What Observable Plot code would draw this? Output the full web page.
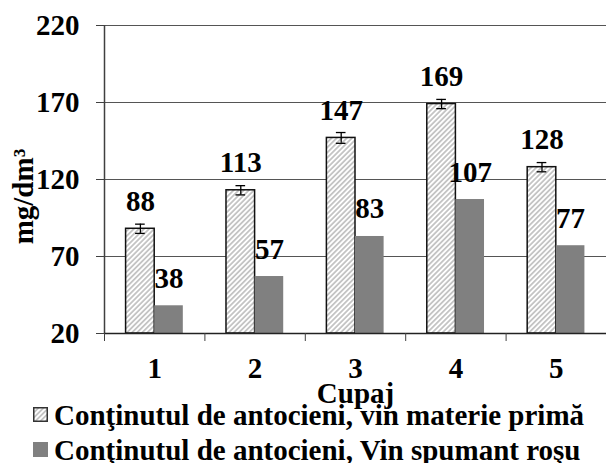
<!DOCTYPE html>
<html><head><meta charset="utf-8">
<script src="https://cdn.jsdelivr.net/npm/d3@7"></script>
<script src="https://cdn.jsdelivr.net/npm/@observablehq/plot@0.6"></script>
<style>
html,body{margin:0;padding:0;background:#fff}
body{width:606px;height:463px;overflow:hidden;font-family:'Liberation Serif','Times New Roman',Tinos,'DejaVu Serif',serif;font-weight:bold;color:#000}
.legend{padding-left:33px;font-size:29px;line-height:35px;white-space:nowrap}
.sw{display:inline-block;width:15px;height:15px;vertical-align:3px;margin-right:6px}
</style></head><body>
<svg width="0" height="0" style="position:absolute">
  <defs>
    <pattern id="hatch" patternUnits="userSpaceOnUse" width="3.6" height="3.6" patternTransform="rotate(45)">
      <rect width="3.6" height="3.6" fill="#ffffff"></rect>
      <rect width="1.8" height="3.6" fill="#c4c4c4"></rect>
    </pattern>
  </defs>
</svg>
<div id="chart"></div>
<div class="legend" id="legend"></div>
<script>
const cupaje = [1, 2, 3, 4, 5];
const materiePrima = [88, 113, 147, 169, 128];
const spumantRosu = [38, 57, 83, 107, 77];
const erori = [3, 3, 3.5, 3, 3];
const yTicks = [20, 70, 120, 170, 220];
const serii = ["Conţinutul de antocieni, vin materie primă", "Conţinutul de antocieni, Vin spumant roşu"];
const axaX = "Cupaj";
const axaY = "mg/dm³";

const culoareSpumant = "#808080";
const w = 0.285;     // bar width in category units
const cap = 0.048;   // error-bar cap half width
const font = "Liberation Serif, Times New Roman, Tinos, DejaVu Serif, serif";
const fs = 29;

const rows1 = cupaje.map((c, i) => ({c, v: materiePrima[i], e: erori[i]}));
const rows2 = cupaje.map((c, i) => ({c, v: spumantRosu[i]}));
const bounds = cupaje.map(c => c - 0.5).concat([cupaje[cupaje.length - 1] + 0.5]);

const chart = Plot.plot({
  width: 606,
  height: 398,
  marginLeft: 104,
  marginRight: 0,
  marginTop: 25,
  marginBottom: 65,
  x: {type: "linear", domain: [bounds[0], bounds[bounds.length - 1]]},
  y: {domain: [yTicks[0], yTicks[yTicks.length - 1]]},
  style: {fontWeight: "bold", fontSize: fs + "px", overflow: "visible", background: "white", color: "black"},
  marks: [
    Plot.ruleY(yTicks.slice(1), {stroke: "#555", strokeWidth: 1}),
    Plot.rectY(rows1, {x1: d => d.c - w, x2: d => d.c, y1: yTicks[0], y2: "v", fill: "url(#hatch)", stroke: "#111", strokeWidth: 1.5}),
    Plot.rectY(rows2, {x1: d => d.c, x2: d => d.c + w, y1: yTicks[0], y2: "v", fill: culoareSpumant}),
    Plot.ruleX(rows1, {x: d => d.c - w / 2, y1: d => d.v - d.e, y2: d => d.v + d.e, stroke: "#000", strokeWidth: 1.3}),
    Plot.ruleY(rows1, {y: d => d.v - d.e, x1: d => d.c - w / 2 - cap, x2: d => d.c - w / 2 + cap, stroke: "#000", strokeWidth: 1.3}),
    Plot.ruleY(rows1, {y: d => d.v + d.e, x1: d => d.c - w / 2 - cap, x2: d => d.c - w / 2 + cap, stroke: "#000", strokeWidth: 1.3}),
    Plot.ruleX([bounds[0]], {stroke: "#404040", strokeWidth: 1.5}),
    Plot.ruleY([yTicks[0]], {stroke: "#222", strokeWidth: 1.3}),
    Plot.axisY({ticks: yTicks, tickSize: 8, tickPadding: 17, label: null, stroke: "#404040", fill: "black", fontFamily: font}),
    Plot.axisX({ticks: bounds, tickSize: 8, tickFormat: () => "", label: null, stroke: "#404040"}),
    Plot.axisX({ticks: cupaje, tickSize: 0, tickPadding: 24, label: null, tickFormat: d => String(d), fill: "black", fontFamily: font}),
    Plot.text(rows1, {x: d => d.c - w / 2, y: "v", text: d => String(d.v), lineAnchor: "bottom", dy: -18, fontSize: fs, fill: "black", fontFamily: font}),
    Plot.text(rows2, {x: d => d.c + w / 2, y: "v", text: d => String(d.v), lineAnchor: "bottom", dy: -18, fontSize: fs, fill: "black", fontFamily: font}),
    Plot.text([axaX], {text: d => d, frameAnchor: "bottom", textAnchor: "middle", lineAnchor: "bottom", dy: 69, fontSize: fs, fill: "black", fontFamily: font}),
    Plot.text([axaY], {text: d => d, frameAnchor: "left", textAnchor: "middle", lineAnchor: "middle", rotate: -90, dx: -81, dy: 17, fontSize: fs, fill: "black", fontFamily: font})
  ]
});
document.getElementById("chart").appendChild(chart);

const legend = document.getElementById("legend");
const swatches = [
  '<svg class="sw" width="15" height="15"><rect x="0.75" y="0.75" width="13.5" height="13.5" fill="url(#hatch)" stroke="#333" stroke-width="1.5"></rect></svg>',
  '<svg class="sw" width="15" height="15"><rect width="15" height="15" fill="' + culoareSpumant + '"></rect></svg>'
];
serii.forEach((s, i) => {
  const row = document.createElement("div");
  row.innerHTML = swatches[i] + '<span>' + s + '</span>';
  legend.appendChild(row);
});
</script>
</body></html>
